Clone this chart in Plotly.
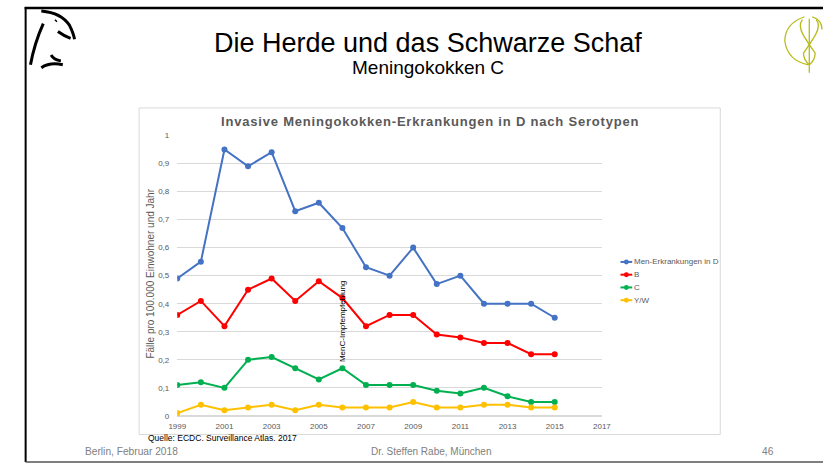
import plotly.graph_objects as go

W, H = 832, 468

years = list(range(1999, 2016))
men_total = [0.49, 0.55, 0.95, 0.89, 0.94, 0.73, 0.76, 0.67, 0.53, 0.50, 0.60, 0.47, 0.50, 0.40, 0.40, 0.40, 0.35]
sero_b = [0.36, 0.41, 0.32, 0.45, 0.49, 0.41, 0.48, 0.42, 0.32, 0.36, 0.36, 0.29, 0.28, 0.26, 0.26, 0.22, 0.22]
sero_c = [0.11, 0.12, 0.10, 0.20, 0.21, 0.17, 0.13, 0.17, 0.11, 0.11, 0.11, 0.09, 0.08, 0.10, 0.07, 0.05, 0.05]
sero_yw = [0.01, 0.04, 0.02, 0.03, 0.04, 0.02, 0.04, 0.03, 0.03, 0.03, 0.05, 0.03, 0.03, 0.04, 0.04, 0.03, 0.03]

series_names = ["Men-Erkrankungen in D", "B", "C", "Y/W"]
series_colors = ["#4472c4", "#ff0000", "#00b050", "#ffc000"]
x_ticks = list(range(1999, 2018, 2))
y_ticks = [i / 10 for i in range(11)]

SANS = "Liberation Sans, Arial, sans-serif"
GREY = "#595959"


def px(x):
    return x / W


def py(y):
    return 1 - y / H


def path(points):
    # SVG path in paper coordinates through pixel points (quadratic segments)
    d = "M {:.4f},{:.4f}".format(px(points[0][0]), py(points[0][1]))
    rest = points[1:]
    i = 0
    while i + 1 < len(rest):
        (cx, cy), (ex, ey) = rest[i], rest[i + 1]
        d += " Q {:.4f},{:.4f} {:.4f},{:.4f}".format(px(cx), py(cy), px(ex), py(ey))
        i += 2
    return d


def text(s, x, y, size, color="black", xanchor="center", angle=0, family=SANS):
    return dict(text=s, x=px(x), y=py(y), xref="paper", yref="paper", xanchor=xanchor, yanchor="middle",
                textangle=angle, showarrow=False, borderpad=0, font=dict(family=family, size=size, color=color))


fig = go.Figure()
for name, vals, col in zip(series_names, [men_total, sero_b, sero_c, sero_yw], series_colors):
    fig.add_trace(go.Scatter(
        x=years, y=vals, name=name, mode="lines+markers",
        line=dict(color=col, width=2),
        marker=dict(color=col, size=6),
        showlegend=False,
    ))

shapes = []
# slide frame
shapes.append(dict(type="line", xref="paper", yref="paper", x0=px(17), x1=px(17), y0=py(3), y1=py(467),
                   line=dict(color="black", width=2)))
shapes.append(dict(type="line", xref="paper", yref="paper", x0=px(16), x1=px(832), y0=py(4), y1=py(4),
                   line=dict(color="black", width=2.5)))
shapes.append(dict(type="line", xref="paper", yref="paper", x0=px(17), x1=px(832), y0=py(467), y1=py(467),
                   line=dict(color="#555555", width=1.5)))
# chart box
shapes.append(dict(type="rect", xref="paper", yref="paper", x0=px(133), x1=px(727), y0=py(106), y1=py(439),
                   line=dict(color="#d9d9d9", width=1), layer="below"))

# left emblem (brush strokes)
ink = dict(color="black", width=3)
for pts in [
    [(33, 7), (54, 9), (62, 22), (66, 30), (67, 36)],
    [(50, 28), (57, 33), (63, 35)],
    [(35, 20), (26, 40), (22, 62)],
    [(43, 52), (46, 57), (53, 58)],
    [(33, 65), (42, 59), (55, 62)],
]:
    shapes.append(dict(type="path", xref="paper", yref="paper", path=path(pts), line=ink))
shapes.append(dict(type="path", xref="paper", yref="paper", path=path([(47, 16), (48, 17), (49, 18)]),
                   line=dict(color="black", width=1.5)))

# right emblem (staff with loops)
olive = dict(color="#b8bb1a", width=1.3)
shapes.append(dict(type="line", xref="paper", yref="paper", x0=px(818), x1=px(818), y0=py(15), y1=py(70),
                   line=olive))
for pts in [
    [(813, 13), (793, 20), (793, 38), (796, 58), (817, 62)],
    [(811, 16), (806, 22), (812, 32), (818, 42), (824, 50), (824, 57), (818, 62)],
    [(825, 16), (830, 22), (824, 32), (818, 42), (812, 50), (812, 57), (818, 62)],
    [(821, 13), (831, 16), (831, 26)],
]:
    shapes.append(dict(type="path", xref="paper", yref="paper", path=path(pts), line=olive))

# legend entries: line sample with a dot, then the label
legend_rows = [263, 276, 289, 302]
annotations = []
for name, col, yy in zip(series_names, series_colors, legend_rows):
    shapes.append(dict(type="line", xref="paper", yref="paper", x0=px(625), x1=px(637), y0=py(yy), y1=py(yy),
                       line=dict(color=col, width=2)))
    shapes.append(dict(type="circle", xref="paper", yref="paper", x0=px(628.5), x1=px(633.5),
                       y0=py(yy - 2.5), y1=py(yy + 2.5), fillcolor=col, line=dict(color=col, width=0)))
    annotations.append(text(name, 638, yy, 8, GREY, xanchor="left"))

annotations += [
    text("Die Herde und das Schwarze Schaf", 428, 40, 27),
    text("Meningokokken C", 428, 65, 19),
    text('<b><span style="letter-spacing:0.8px">Invasive Meningokokken-Erkrankungen in D nach Serotypen</span></b>',
         430, 120, 13, GREY),
    text("Fälle pro 100.000 Einwohner und Jahr", 145, 275, 10, GREY, angle=-90),
    dict(text="MenC-Impfempfehlung", x=2006, y=0.336, xref="x", yref="y", textangle=-90, showarrow=False,
         xanchor="center", yanchor="middle", borderpad=0, font=dict(family=SANS, size=8, color="black")),
    text("Quelle: ECDC. Surveillance Atlas. 2017", 141, 443, 8.5, xanchor="left"),
    text("Berlin, Februar 2018", 77, 456, 10.2, "#808080", xanchor="left"),
    text("Dr. Steffen Rabe, München", 431, 456, 10, "#808080"),
    text("46", 776, 456, 10.2, "#808080"),
]

fig.update_layout(
    width=W, height=H,
    margin=dict(l=0, r=0, t=0, b=0),
    paper_bgcolor="white", plot_bgcolor="white",
    separators=",.",
    showlegend=False,
    xaxis=dict(domain=[px(172), px(606)], range=[1999, 2017], tickmode="array", tickvals=x_ticks,
               showgrid=False, zeroline=False, showline=False, ticks="", ticklabelstandoff=4,
               tickfont=dict(family=SANS, size=8, color=GREY)),
    yaxis=dict(domain=[py(420), py(134)], range=[0, 1], tickmode="array", tickvals=y_ticks,
               tickformat=",.1~f", showgrid=True, gridcolor="#d9d9d9", gridwidth=1,
               zeroline=True, zerolinecolor="#d9d9d9", showline=False, ticks="", ticklabelstandoff=7,
               tickfont=dict(family=SANS, size=8, color=GREY)),
    shapes=shapes,
    annotations=annotations,
)

fig.write_html("out.html")
